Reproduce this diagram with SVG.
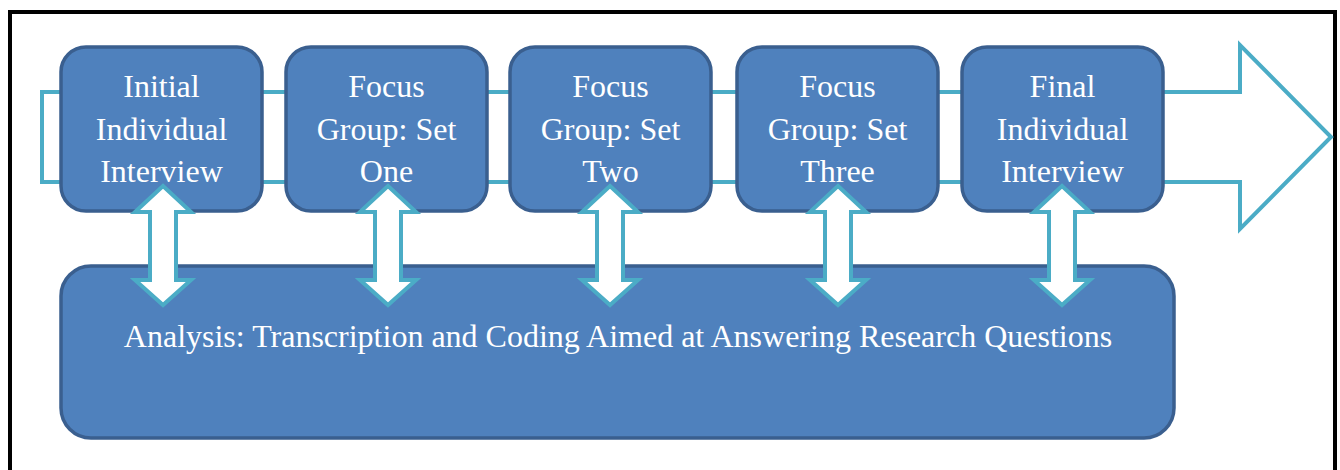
<svg xmlns="http://www.w3.org/2000/svg" width="1340" height="470" viewBox="0 0 1340 470">
<style>
.box{fill:#4F81BD;stroke:#3A5F8F;stroke-width:3.5}
.conn{fill:#FFFFFF;stroke:#4BACC6;stroke-width:4;stroke-linejoin:miter}
.t{font-family:"Liberation Serif","Times New Roman",serif;font-size:32px;fill:#FFFFFF;text-anchor:middle}
</style>
<rect x="0" y="0" width="1340" height="470" fill="#FFFFFF"/>
<rect x="10" y="12" width="1325" height="480" fill="none" stroke="#000000" stroke-width="4"/>
<g id="flow">
<path class="conn" d="M42,92 L1240,92 L1240,45 L1331,137 L1240,229 L1240,182 L42,182 Z"/>
</g>
<g id="node1"><rect class="box" x="61" y="47" width="201" height="164" rx="25"/><text class="t" x="161.5" y="97">Initial</text><text class="t" x="161.5" y="139.5">Individual</text><text class="t" x="161.5" y="182">Interview</text></g>
<g id="node2"><rect class="box" x="286" y="47" width="201" height="164" rx="25"/><text class="t" x="386.5" y="97">Focus</text><text class="t" x="386.5" y="139.5">Group: Set</text><text class="t" x="386.5" y="182">One</text></g>
<g id="node3"><rect class="box" x="510" y="47" width="201" height="164" rx="25"/><text class="t" x="610.5" y="97">Focus</text><text class="t" x="610.5" y="139.5">Group: Set</text><text class="t" x="610.5" y="182">Two</text></g>
<g id="node4"><rect class="box" x="737" y="47" width="201" height="164" rx="25"/><text class="t" x="837.5" y="97">Focus</text><text class="t" x="837.5" y="139.5">Group: Set</text><text class="t" x="837.5" y="182">Three</text></g>
<g id="node5"><rect class="box" x="962" y="47" width="201" height="164" rx="25"/><text class="t" x="1062.5" y="97">Final</text><text class="t" x="1062.5" y="139.5">Individual</text><text class="t" x="1062.5" y="182">Interview</text></g>
<g id="analysis"><rect class="box" x="61" y="266" width="1113" height="172" rx="30"/><text class="t" x="618" y="347">Analysis: Transcription and Coding Aimed at Answering Research Questions</text></g>
<g id="connectors">
<path class="conn" d="M163,186 L191,212 L176,212 L176,280 L191,280 L163,305 L135,280 L150,280 L150,212 L135,212 Z"/>
<path class="conn" d="M388,186 L416,212 L401,212 L401,280 L416,280 L388,305 L360,280 L375,280 L375,212 L360,212 Z"/>
<path class="conn" d="M610,186 L638,212 L623,212 L623,280 L638,280 L610,305 L582,280 L597,280 L597,212 L582,212 Z"/>
<path class="conn" d="M838,186 L866,212 L851,212 L851,280 L866,280 L838,305 L810,280 L825,280 L825,212 L810,212 Z"/>
<path class="conn" d="M1062,186 L1090,212 L1075,212 L1075,280 L1090,280 L1062,305 L1034,280 L1049,280 L1049,212 L1034,212 Z"/>
</g>
</svg>
